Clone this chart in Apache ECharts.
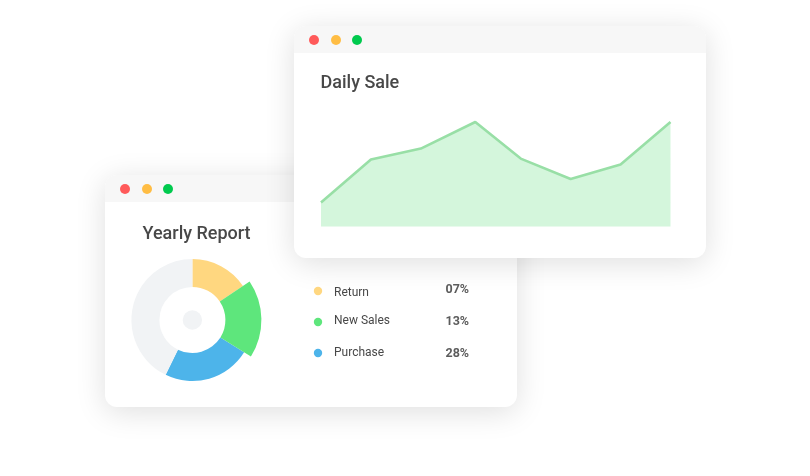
<!DOCTYPE html>
<html><head><meta charset="utf-8">
<style>html,body{margin:0;padding:0;background:#fff}#c{width:810px;height:476px}</style>
<script src="https://cdn.jsdelivr.net/npm/echarts@6/dist/echarts.min.js"></script>
</head><body><div id="c"></div>
<script>
const saleX = [0, 1, 2, 3.09, 4, 5, 6, 7];
const saleY = [24, 67, 78, 104.6, 68, 47.6, 62, 104.6];
const pieNames = ['Return', 'New Sales', 'Purchase', 'Rest'];
const pieValues = [56, 66, 84, 154];
const pieColors = ['#ffd780', '#5ee67c', '#4db4ea', '#f1f3f5'];
const legendNames = ['Return', 'New Sales', 'Purchase'];
const legendPct = ['07%', '13%', '28%'];
const legendDotY = [291, 322, 353];
const legendTextY = [293, 321, 353];
const legendPctY = [289.5, 322, 353.5];
const dotColors = ['#ff5a5a', '#ffbd44', '#00ca4e'];
const FONT = 'Roboto';

function card(x, y, title, tx, ty, z) {
  const w = 412, h = 232, r = 12, out = [];
  out.push({type:'rect', z, shape:{x, y, width:w, height:h, r}, style:{fill:'#fff', shadowBlur:30, shadowColor:'rgba(0,0,0,0.13)', shadowOffsetY:5}});
  out.push({type:'rect', z, shape:{x, y, width:w, height:27, r:[r,r,0,0]}, style:{fill:'#f7f7f7'}});
  [20, 42, 63].forEach((dx, i) => out.push({type:'circle', z, shape:{cx:x+dx, cy:y+14, r:5}, style:{fill:dotColors[i]}}));
  out.push({type:'text', z, x:tx, y:ty, style:{text:title, font:'500 18px '+FONT, fill:'#484848', textVerticalAlign:'middle'}});
  return out;
}
const els = [
  ...card(105, 175, 'Yearly Report', 142.5, 234, 0),
  ...card(294, 26, 'Daily Sale', 320.5, 83, 1)
];
legendNames.forEach((n, i) => {
  els.push({type:'circle', z:1, shape:{cx:318, cy:legendDotY[i], r:4.2}, style:{fill:pieColors[i]}});
  els.push({type:'text', z:1, x:334, y:legendTextY[i], style:{text:n, font:'12px '+FONT, fill:'#484848', textVerticalAlign:'middle'}});
  els.push({type:'text', z:1, x:445.5, y:legendPctY[i], style:{text:legendPct[i], font:'bold 12.5px '+FONT, fill:'#5c5c5c', textVerticalAlign:'middle'}});
});

const chart = echarts.init(document.getElementById('c'), null, {renderer:'canvas'});
const sliceData = (keep) => pieNames.map((name, i) => ({
  name, value: pieValues[i],
  itemStyle: {color: keep(i) ? pieColors[i] : 'rgba(0,0,0,0)'}
}));
const pieBase = {type:'pie', silent:true, center:[192.4,320], startAngle:90, clockwise:true, label:{show:false}, labelLine:{show:false}, animation:false, minShowLabelAngle:0, z:3};
chart.setOption({
  animation:false,
  backgroundColor:'#fff',
  graphic:{elements:els},
  grid:{left:321, top:116.6, width:349.5, height:110},
  xAxis:{type:'value', min:0, max:7, show:false},
  yAxis:{type:'value', min:0, max:110, show:false},
  series:[
    {type:'line', data:saleX.map((x,i)=>[x,saleY[i]]), showSymbol:false, silent:true, z:3,
     lineStyle:{color:'#98dfa6', width:2.6}, areaStyle:{color:'#d4f6dc', opacity:1}},
    {...pieBase, radius:[33,61], data:sliceData(i=>i!==1)},
    {...pieBase, radius:[33,69], data:sliceData(i=>i===1), z:4},
    {...pieBase, radius:[0,9.7], data:[{name:'Hub', value:1, itemStyle:{color:'#f1f3f5'}}]}
  ]
});
</script></body></html>
